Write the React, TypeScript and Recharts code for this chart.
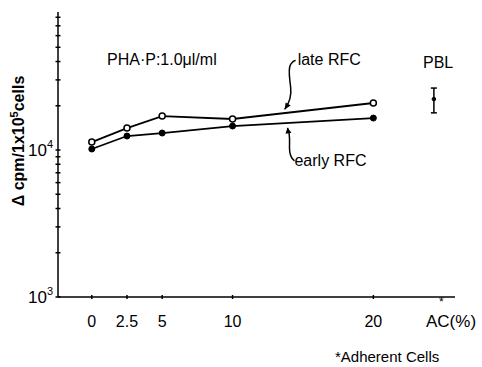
import React from 'react';
import { ComposedChart, Line, XAxis, YAxis, ErrorBar, ReferenceDot, Customized } from 'recharts';

// AC percentages on the x axis
const acPercent = [0, 2.5, 5, 10, 20];
const xTickLabels = ['0', '2.5', '5', '10', '20'];

// Δ cpm per 1x10^5 cells
const lateRFC = [11330, 14110, 17020, 16260, 20890];
const earlyRFC = [10160, 12450, 13050, 14560, 16500];

// PBL reference (mean with range)
const pblX = 24.3;
const pblMean = 22200;
const pblLow = 17900;
const pblHigh = 26400;

const yTicks = [1000, 2000, 3000, 4000, 5000, 6000, 7000, 8000, 9000, 10000, 20000, 30000, 40000, 50000, 60000, 70000, 80000];

const FONT = '"Liberation Sans", Arial, sans-serif';

const data = [
  ...acPercent.map((x, i) => ({ x, late: lateRFC[i], early: earlyRFC[i] })),
  { x: pblX, pbl: pblMean, pblErr: [pblMean - pblLow, pblHigh - pblMean] },
];

const YTick = (props: any) => {
  const { x, y, payload } = props;
  const v = payload.value;
  const label = v === 1000 ? '3' : v === 10000 ? '4' : null;
  return (
    <g>
      <line x1={x - 2.5} x2={x + 2.5} y1={y} y2={y} stroke="#000" strokeWidth={1.5} />
      {label && (
        <text x={x - 11} y={y + 6} textAnchor="end" fontSize={17} fontFamily={FONT} fill="#000">
          10
        </text>
      )}
      {label && (
        <text x={x - 11} y={y - 2} textAnchor="start" fontSize={11} fontFamily={FONT} fill="#000">
          {label}
        </text>
      )}
    </g>
  );
};

const XTick = (props: any) => {
  const { x, y, payload, index } = props;
  return (
    <g>
      <line x1={x} x2={x} y1={y - 2} y2={y + 2} stroke="#000" strokeWidth={1.5} />
      <text x={x} y={y + 30} textAnchor="middle" fontSize={16} fontFamily={FONT} fill="#000">
        {xTickLabels[index] ?? payload.value}
      </text>
    </g>
  );
};

const LateArrow = (props: any) => {
  const { cx, cy } = props;
  return (
    <g>
      <path
        d={`M${cx},${cy} C${cx + 5},${cy - 7} ${cx + 7},${cy - 14} ${cx + 6},${cy - 22} C${cx + 5},${cy - 32} ${cx + 3},${cy - 40} ${cx + 6},${cy - 45} C${cx + 8},${cy - 48} ${cx + 10},${cy - 49} ${cx + 11},${cy - 49}`}
        fill="none"
        stroke="#000"
        strokeWidth={1.5}
      />
      <path d={`M${cx},${cy} L${cx + 1},${cy - 7} L${cx + 6},${cy - 4} Z`} fill="#000" />
      <text x={cx + 13} y={cy - 44} fontSize={16} fontFamily={FONT} fill="#000">
        late RFC
      </text>
    </g>
  );
};

const EarlyArrow = (props: any) => {
  const { cx, cy } = props;
  return (
    <g>
      <path
        d={`M${cx},${cy} C${cx + 3},${cy + 6} ${cx + 2},${cy + 14} ${cx + 2},${cy + 20} C${cx + 2},${cy + 27} ${cx + 4},${cy + 31} ${cx + 7},${cy + 33}`}
        fill="none"
        stroke="#000"
        strokeWidth={1.5}
      />
      <path d={`M${cx},${cy} L${cx - 2},${cy + 6} L${cx + 4},${cy + 5} Z`} fill="#000" />
      <text x={cx + 7} y={cy + 38} fontSize={16} fontFamily={FONT} fill="#000">
        early RFC
      </text>
    </g>
  );
};

const Annotations = () => (
  <g fontFamily={FONT} fill="#000">
    <text x={107} y={65} fontSize={16}>
      PHA·P:1.0μl/ml
    </text>
    <text x={423} y={68} fontSize={16}>
      PBL
    </text>
    <text x={24} y={141} fontSize={16} fontWeight="bold" textAnchor="middle" transform="rotate(-90 24 141)">
      <tspan>Δ cpm/1x10</tspan>
      <tspan dy={-6} fontSize={11}>5</tspan>
      <tspan dy={6}>cells</tspan>
    </text>
    <text x={426} y={327} fontSize={17}>
      AC(%)
    </text>
    <text x={439} y={306} fontSize={12}>
      *
    </text>
    <text x={335} y={362} fontSize={15}>
      *Adherent Cells
    </text>
  </g>
);

export default function App() {
  return (
    <div style={{ position: 'absolute', left: 0, top: 0, width: 482, height: 367, background: '#fff' }}>
      <ComposedChart width={482} height={367} data={data} margin={{ top: 12, right: 27, bottom: 0, left: 0 }}>
        <XAxis
          dataKey="x"
          type="number"
          domain={[-2.4, 25.8]}
          allowDataOverflow
          ticks={acPercent}
          interval={0}
          height={70}
          tickSize={0}
          tickMargin={0}
          tickLine={false}
          tick={<XTick />}
          axisLine={{ stroke: '#000', strokeWidth: 1.5 }}
        />
        <YAxis
          type="number"
          scale="log"
          domain={[1000, 86900]}
          allowDataOverflow
          ticks={yTicks}
          interval={0}
          width={58}
          tickSize={0}
          tickMargin={0}
          tickLine={false}
          tick={<YTick />}
          axisLine={{ stroke: '#000', strokeWidth: 1.5 }}
        />
        <Line
          dataKey="late"
          stroke="#000"
          strokeWidth={1.8}
          dot={{ r: 3, fill: '#fff', stroke: '#000', strokeWidth: 1.5 }}
          isAnimationActive={false}
        />
        <Line
          dataKey="early"
          stroke="#000"
          strokeWidth={1.8}
          dot={{ r: 3, fill: '#000', stroke: '#000', strokeWidth: 1 }}
          isAnimationActive={false}
        />
        <Line
          dataKey="pbl"
          stroke="none"
          dot={{ r: 1.8, fill: '#000', stroke: '#000' }}
          isAnimationActive={false}
        >
          <ErrorBar dataKey="pblErr" direction="y" width={3} stroke="#000" strokeWidth={1.5} />
        </Line>
        <ReferenceDot x={13.7} y={18900} r={0} shape={<LateArrow />} />
        <ReferenceDot x={13.9} y={14150} r={0} shape={<EarlyArrow />} />
        <Customized component={<Annotations />} />
      </ComposedChart>
    </div>
  );
}
